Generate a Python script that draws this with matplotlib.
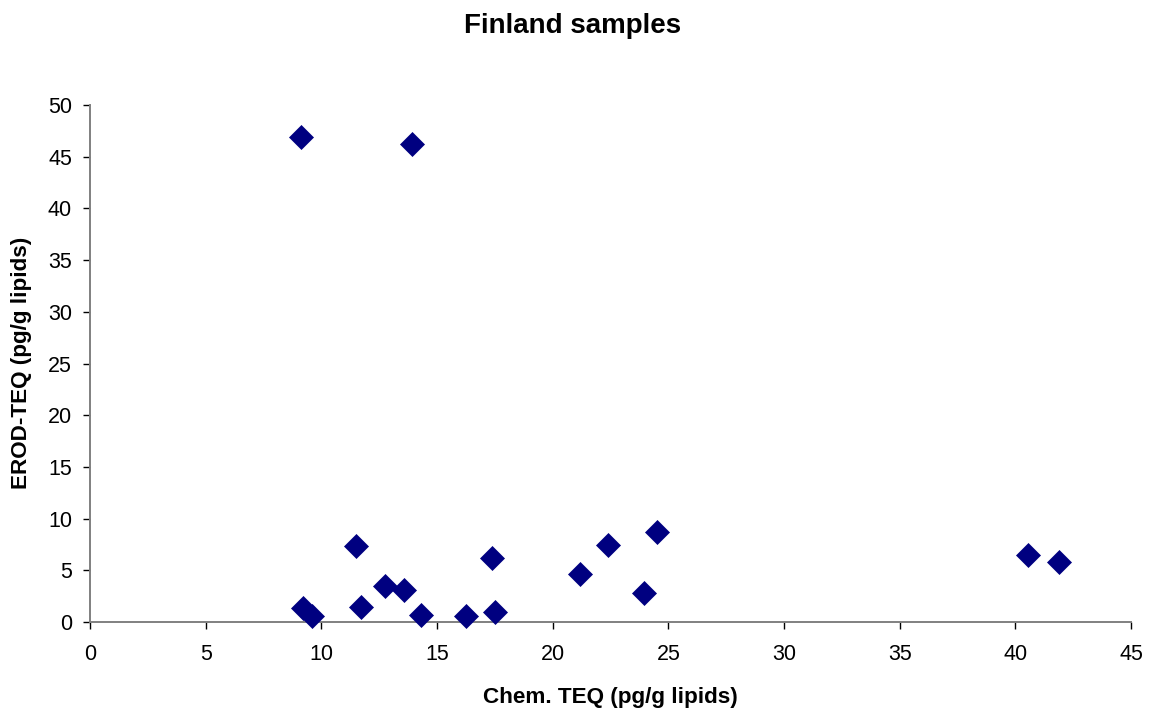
import matplotlib
matplotlib.use("Agg")
import matplotlib.pyplot as plt

plt.rcParams['font.family'] = ['Liberation Sans', 'DejaVu Sans']

# Chemical TEQ vs EROD-TEQ for the Finnish samples
chem_teq = [9.12, 13.92, 9.19, 9.58, 11.52, 11.73, 12.77, 13.58, 14.31,
            16.27, 17.37, 17.52, 21.17, 22.38, 24.51, 23.94, 40.54, 41.87]
erod_teq = [46.9, 46.26, 1.32, 0.61, 7.35, 1.42, 3.51, 3.07, 0.68,
            0.58, 6.22, 1.0, 4.64, 7.41, 8.70, 2.84, 6.48, 5.77]

x_ticks = list(range(0, 46, 5))
y_ticks = list(range(0, 51, 5))

W, H = 1154, 713
fig = plt.figure(figsize=(W / 100, H / 100), dpi=100)
ax = fig.add_axes([90 / W, 1 - 622 / H, (1131 - 90) / W, (622 - 105) / H])

ax.plot(chem_teq, erod_teq, linestyle='none', marker='D', markersize=12,
        color='#000080', markeredgecolor='#000080', markeredgewidth=0.5,
        clip_on=False, zorder=3)

ax.set_xlim(0, 45)
ax.set_ylim(0, 50)
ax.set_xticks(x_ticks)
ax.set_yticks(y_ticks)

for side in ('top', 'right'):
    ax.spines[side].set_visible(False)
for side in ('left', 'bottom'):
    ax.spines[side].set_color('#808080')
    ax.spines[side].set_linewidth(1.4)

ax.tick_params(axis='both', direction='out', length=5, width=1.0,
               color='#000000', labelsize=15.5)
ax.tick_params(axis='x', pad=11)
ax.tick_params(axis='y', pad=8)

# Axis titles and chart title
fig.text(610 / W, 1 - 703 / H, 'Chem. TEQ (pg/g lipids)', fontsize=16.2,
         fontweight='bold', ha='center', va='baseline')
fig.text(22 / W, 1 - 363 / H, 'EROD-TEQ (pg/g lipids)', fontsize=16.2,
         fontweight='bold', ha='center', va='center', rotation=90)
fig.text(573 / W, 1 - 33 / H, 'Finland samples', fontsize=20,
         fontweight='bold', ha='center', va='baseline')

fig.savefig('out.png', dpi=100, facecolor='white')
